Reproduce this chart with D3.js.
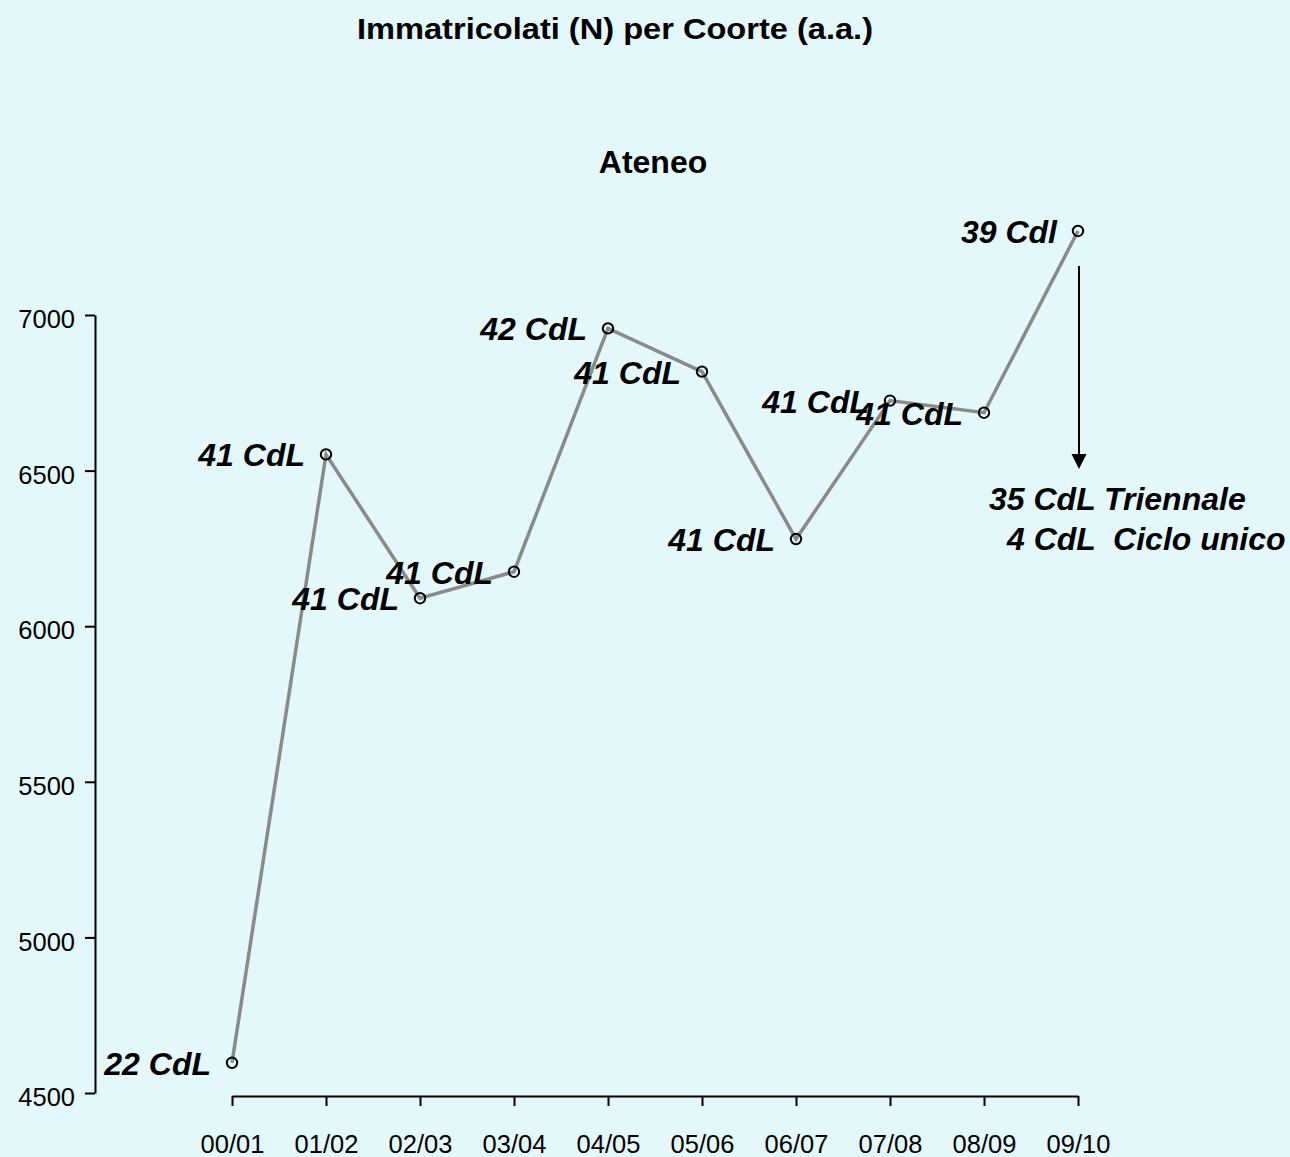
<!DOCTYPE html>
<html>
<head>
<meta charset="utf-8">
<script src="https://cdn.jsdelivr.net/npm/d3@7"></script>
<style>
  html, body { margin: 0; padding: 0; background: #e4f7fa; }
  svg { display: block; }
  text { font-family: "Liberation Sans", Arial, sans-serif; }
</style>
</head>
<body>
<script>
const categories = ["00/01", "01/02", "02/03", "03/04", "04/05", "05/06", "06/07", "07/08", "08/09", "09/10"];
const immatricolati = [4597, 6552, 6090, 6175, 6957, 6818, 6280, 6725, 6686, 7270];
const pointLabels = ["22 CdL", "41 CdL", "41 CdL", "41 CdL", "42 CdL", "41 CdL", "41 CdL", "41 CdL", "41 CdL", "39 Cdl"];
const yTicks = [4500, 5000, 5500, 6000, 6500, 7000];
const noteLines = ["35 CdL Triennale", "4 CdL  Ciclo unico"];
const titleText = "Immatricolati (N) per Coorte (a.a.)";
const subtitleText = "Ateneo";

const W = 1290, H = 1157;
const svg = d3.select("body").append("svg").attr("width", W).attr("height", H);
svg.append("rect").attr("width", W).attr("height", H).attr("fill", "#e4f7fa");

const x = d3.scalePoint().domain(categories).range([232, 1078]);
const y = d3.scaleLinear().domain([4500, 7000]).range([1093, 315]);

// Titles
svg.append("text").attr("x", 615).attr("y", 39)
  .attr("text-anchor", "middle").attr("font-size", 30).attr("font-weight", "bold")
  .attr("textLength", 516).attr("lengthAdjust", "spacingAndGlyphs")
  .text(titleText);
svg.append("text").attr("x", 653).attr("y", 173)
  .attr("text-anchor", "middle").attr("font-size", 32).attr("font-weight", "bold")
  .text(subtitleText);

// Y axis
const yAxis = svg.append("g").attr("transform", "translate(95,0)")
  .call(d3.axisLeft(y).tickValues(yTicks).tickFormat(d3.format("d")).tickSize(10).tickSizeOuter(0).tickPadding(10));
yAxis.selectAll("text").attr("font-size", 25.5).attr("font-family", "Liberation Sans, Arial, sans-serif").attr("dy", "0.5em").attr("fill", "#000");
yAxis.selectAll("line, path").attr("stroke", "#000").attr("stroke-width", 2);

// X axis
const xAxis = svg.append("g").attr("transform", "translate(0,1096)")
  .call(d3.axisBottom(x).tickSize(10).tickSizeOuter(0).tickPadding(29));
xAxis.selectAll("text").attr("font-size", 25.5).attr("font-family", "Liberation Sans, Arial, sans-serif").attr("fill", "#000");
xAxis.selectAll("line, path").attr("stroke", "#000").attr("stroke-width", 2);

const data = categories.map((c, i) => ({ c, v: immatricolati[i], label: pointLabels[i] }));

// Line
svg.append("path").datum(data)
  .attr("fill", "none").attr("stroke", "#8a8a8a").attr("stroke-width", 3.5)
  .attr("d", d3.line().x(d => x(d.c)).y(d => y(d.v)));

// Points
svg.selectAll("circle.pt").data(data).enter().append("circle")
  .attr("class", "pt")
  .attr("cx", d => x(d.c)).attr("cy", d => y(d.v)).attr("r", 5.2)
  .attr("fill", "none").attr("stroke", "#000").attr("stroke-width", 2);

// Labels
svg.selectAll("text.lbl").data(data).enter().append("text")
  .attr("class", "lbl")
  .attr("x", d => x(d.c) - 21).attr("y", d => y(d.v) + 12)
  .attr("text-anchor", "end").attr("font-size", 32)
  .attr("font-weight", "bold").attr("font-style", "italic")
  .text(d => d.label);

// Arrow from last point
const last = data[data.length - 1];
const ax = x(last.c) + 1;
const y0 = y(last.v) + 35, y1 = y(last.v) + 238;
svg.append("line").attr("x1", ax).attr("x2", ax).attr("y1", y0).attr("y2", y1 - 14)
  .attr("stroke", "#000").attr("stroke-width", 2);
svg.append("path")
  .attr("d", `M${ax - 7.5},${y1 - 15} L${ax + 7.5},${y1 - 15} L${ax},${y1} Z`)
  .attr("fill", "#000");

// Note text
svg.append("text").attr("x", 989).attr("y", 510)
  .attr("font-size", 32).attr("font-weight", "bold").attr("font-style", "italic")
  .attr("xml:space", "preserve").style("white-space", "pre")
  .text(noteLines[0]);
svg.append("text").attr("x", 1007).attr("y", 550)
  .attr("font-size", 32).attr("font-weight", "bold").attr("font-style", "italic")
  .attr("xml:space", "preserve").style("white-space", "pre")
  .text(noteLines[1]);
</script>
</body>
</html>
